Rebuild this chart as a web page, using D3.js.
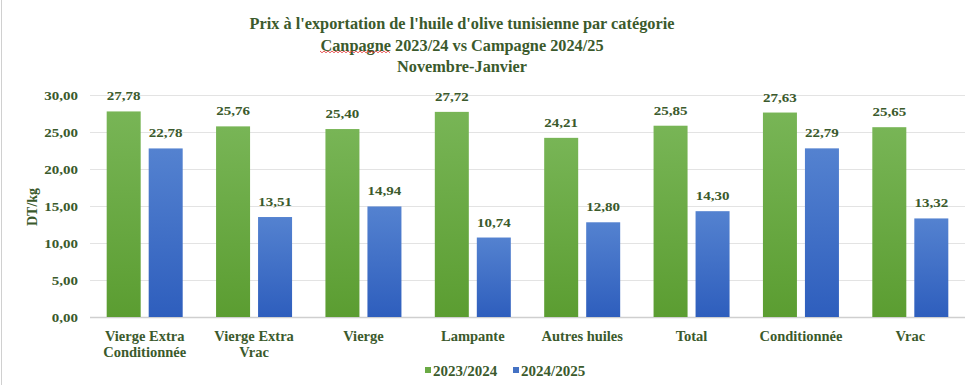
<!DOCTYPE html>
<html><head><meta charset="utf-8">
<script src="https://cdn.jsdelivr.net/npm/d3@7/dist/d3.min.js"></script>
<style>body{margin:0;background:#fff}svg{display:block}</style>
</head><body>
<script>
const categories = [["Vierge Extra","Conditionnée"],["Vierge Extra","Vrac"],["Vierge"],["Lampante"],["Autres huiles"],["Total"],["Conditionnée"],["Vrac"]];
const series1Name = "2023/2024";
const series2Name = "2024/2025";
const series1 = [27.78,25.76,25.40,27.72,24.21,25.85,27.63,25.65];
const series2 = [22.78,13.51,14.94,10.74,12.80,14.30,22.79,13.32];
const yTicks = [0,5,10,15,20,25,30];
const titleLines = ["Prix à l'exportation de l'huile d'olive tunisienne par catégorie","Canpagne 2023/24 vs Campagne 2024/25","Novembre-Janvier"];

const W=979,H=385;
const txt="#3b5a2c";
const font="'Liberation Serif','Times New Roman','DejaVu Serif',serif";
const svg=d3.select("body").append("svg").attr("width",W).attr("height",H);
const defs=svg.append("defs");
const g1=defs.append("linearGradient").attr("id","gG").attr("x1",0).attr("y1",0).attr("x2",0).attr("y2",1);
g1.append("stop").attr("offset","0%").attr("stop-color","#78b556");
g1.append("stop").attr("offset","100%").attr("stop-color","#5b9d31");
const g2=defs.append("linearGradient").attr("id","gB").attr("x1",0).attr("y1",0).attr("x2",0).attr("y2",1);
g2.append("stop").attr("offset","0%").attr("stop-color","#5482d0");
g2.append("stop").attr("offset","100%").attr("stop-color","#2e5ebd");

svg.append("line").attr("x1",1.5).attr("x2",1.5).attr("y1",0).attr("y2",H).attr("stroke","#d0d0d0");

const x0=90,x1=965,yTop=95,yBot=317;
const y=d3.scaleLinear().domain([0,30]).range([yBot,yTop]);
const xb=d3.scaleBand().domain(d3.range(categories.length)).range([x0,x1]).paddingInner(0).paddingOuter(0);
const bw=34,gap=8;
const SX=1.2;

// grid
svg.append("g").selectAll("line").data(yTicks).join("line")
 .attr("x1",x0).attr("x2",x1).attr("y1",d=>Math.round(y(d))+0.5).attr("y2",d=>Math.round(y(d))+0.5)
 .attr("stroke",d=>d===0?"#cfcfcf":"#e3e3e3").attr("stroke-width",d=>d===0?1.5:1);

// y tick labels
const fmt=d=>d3.format(".2f")(d).replace(".",",");
svg.append("g").selectAll("text").data(yTicks).join("text")
 .attr("transform",d=>`translate(78,${y(d)+4.5}) scale(${SX},1)`).attr("text-anchor","end")
 .attr("font-family",font).attr("font-weight","bold").attr("font-size",12.5).attr("fill",txt).text(fmt);

svg.append("text").attr("transform","translate(37,207) rotate(-90)").attr("text-anchor","middle")
 .attr("font-family",font).attr("font-weight","bold").attr("font-size",14).attr("fill",txt).text("DT/kg");

// bars
const grp=svg.append("g");
categories.forEach((c,i)=>{
  const cx=xb(i)+xb.bandwidth()/2;
  const xs=[cx-gap/2-bw, cx+gap/2];
  [[series1[i],"url(#gG)"],[series2[i],"url(#gB)"]].forEach(([v,f],k)=>{
    grp.append("rect").attr("x",xs[k]).attr("y",y(v)).attr("width",bw).attr("height",y(0)-y(v)).attr("fill",f);
    grp.append("text").attr("transform",`translate(${xs[k]+bw/2},${y(v)-11}) scale(${SX},1)`).attr("text-anchor","middle")
      .attr("font-family",font).attr("font-weight","bold").attr("font-size",12.5).attr("fill",txt).text(fmt(v));
  });
  const t=grp.append("text").attr("text-anchor","middle").attr("font-family",font).attr("font-weight","bold")
    .attr("font-size",14.5).attr("fill",txt);
  c.forEach((l,j)=>t.append("tspan").attr("x",cx).attr("y",341+j*16).text(l));
});

// title
const TX=462;
const tt=svg.append("text").attr("text-anchor","middle").attr("font-family",font).attr("font-weight","bold")
 .attr("font-size",16.3).attr("fill",txt);
titleLines.forEach((l,j)=>tt.append("tspan").attr("x",TX).attr("y",29+j*21.5).text(l));
// spell-check squiggle under "Canpagne"
(function(){
  const sx=320, ex=390, yb=51;
  let p=`M${sx},${yb}`;
  for(let xx=sx, k=0; xx<ex; xx+=2, k++){p+=` L${xx+2},${k%2===0?yb+1.8:yb}`;}
  svg.append("path").attr("d",p).attr("fill","none").attr("stroke","#e23030").attr("stroke-width",0.8);
})();

// legend
const lg=svg.append("g").attr("font-family",font).attr("font-weight","bold").attr("font-size",15).attr("fill",txt);
[[series1Name,"#6aaa45",425],[series2Name,"#4472c4",513]].forEach(([n,c,lx])=>{
  lg.append("rect").attr("x",lx).attr("y",367).attr("width",6).attr("height",6).attr("fill",c);
  lg.append("text").attr("x",lx+8).attr("y",376).text(n);
});
</script>
</body></html>
